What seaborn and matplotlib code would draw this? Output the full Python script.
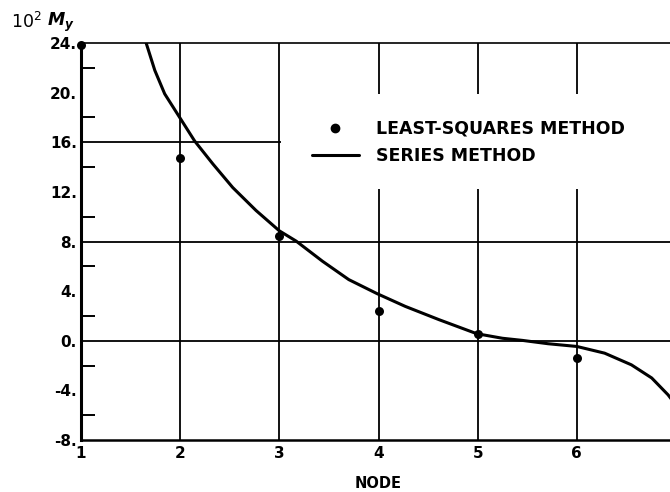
import matplotlib
matplotlib.use("Agg")
import matplotlib.pyplot as plt
import seaborn as sns
import pandas as pd
from matplotlib.patches import Rectangle
from matplotlib.lines import Line2D
from matplotlib.ticker import FixedLocator, FuncFormatter

# ---- data ----
nodes = [1, 2, 3, 4, 5, 6, 7]
least_squares = [23.8, 14.7, 8.45, 2.37, 0.57, -1.4, -3.6]

series_x = [1.653, 1.744, 1.844, 1.995, 2.146, 2.33, 2.53, 2.765, 3.0, 3.17,
            3.435, 3.70, 3.985, 4.27, 4.61, 4.99, 5.25, 5.45, 5.71, 6.0, 6.28,
            6.55, 6.755, 6.92, 7.0]
series_y = [24.1, 21.8, 19.9, 18.0, 16.1, 14.25, 12.35, 10.5, 8.86, 8.03,
            6.41, 4.93, 3.8, 2.77, 1.70, 0.57, 0.2, 0.03, -0.24, -0.46, -1.0,
            -1.94, -3.0, -4.36, -5.2]

y_major = [-8, -4, 0, 4, 8, 12, 16, 20, 24]
y_minor = [-6, -2, 2, 6, 10, 14, 18, 22]
grid_x = [2, 3, 4, 5, 6]
grid_y = [0, 8, 16]
legend_labels = ["LEAST-SQUARES METHOD", "SERIES METHOD"]

sns.set_theme(style="white")
plt.rcParams["font.family"] = ["DejaVu Sans"]

W, H = 670, 492
fig = plt.figure(figsize=(W / 100, H / 100), dpi=100)
ax = fig.add_axes([81 / W, 1 - 440 / H, (676 - 81) / W, (440 - 43) / H])

df_pts = pd.DataFrame({"node": nodes, "val": least_squares})
df_line = pd.DataFrame({"x": series_x, "y": series_y})

sns.lineplot(data=df_line, x="x", y="y", color="black", linewidth=2.2,
             ax=ax, zorder=3, estimator=None)
sns.scatterplot(data=df_pts, x="node", y="val", color="black", s=42,
                edgecolor="black", linewidth=0, ax=ax, zorder=4, clip_on=False)

for gx in grid_x:
    ax.axvline(gx, color="black", linewidth=1.3, zorder=1)
for gy in grid_y:
    ax.axhline(gy, color="black", linewidth=1.3, zorder=1)

# white area behind the legend
ax.add_patch(Rectangle((3.015, 12.2), 4.2, 7.65, facecolor="white",
                       edgecolor="none", zorder=1.5))

ax.set_xlim(1, 7)
ax.set_ylim(-8, 24)

ax.xaxis.set_major_locator(FixedLocator(nodes))
ax.set_xticklabels([str(n) for n in nodes])
ax.yaxis.set_major_locator(FixedLocator(y_major))
ax.yaxis.set_minor_locator(FixedLocator(y_minor))
ax.yaxis.set_major_formatter(FuncFormatter(lambda v, p: f"{int(v)}."))

ax.tick_params(axis="x", length=0, pad=4, labelsize=11, labelcolor="black")
ax.tick_params(axis="y", which="both", direction="in", length=10, width=1.4,
               color="black", pad=3, labelsize=11, labelcolor="black")
ax.tick_params(axis="y", which="minor", left=True)
for lab in ax.get_xticklabels() + ax.get_yticklabels():
    lab.set_fontweight("bold")

for side in ["left", "bottom", "top", "right"]:
    ax.spines[side].set_color("black")
ax.spines["left"].set_linewidth(2.2)
ax.spines["bottom"].set_linewidth(1.8)
ax.spines["top"].set_linewidth(1.2)
ax.spines["right"].set_visible(False)

ax.set_xlabel("NODE", fontsize=10.5, fontweight="bold", labelpad=11, color="black")
ax.set_ylabel("")

fig.text(11 / W, 1 - 22 / H, "10$^{2}$", fontsize=12.5, va="center", ha="left",
         color="black")
fig.text(47 / W, 1 - 22 / H, r"$\mathbfit{M_y}$", fontsize=12.5, va="center",
         ha="left", color="black")

handles = [Line2D([], [], marker="o", linestyle="none", color="black", markersize=6),
           Line2D([], [], color="black", linewidth=2.2)]
leg = ax.legend(handles, legend_labels, loc="upper left",
                bbox_to_anchor=(312 / W, 1 - 120 / H), bbox_transform=fig.transFigure,
                frameon=False, borderaxespad=0, borderpad=0, handlelength=2.7,
                handletextpad=1.0, labelspacing=0.5,
                prop={"size": 12.5, "weight": "bold"})
for t in leg.get_texts():
    t.set_color("black")

fig.savefig("out.png", dpi=100)
